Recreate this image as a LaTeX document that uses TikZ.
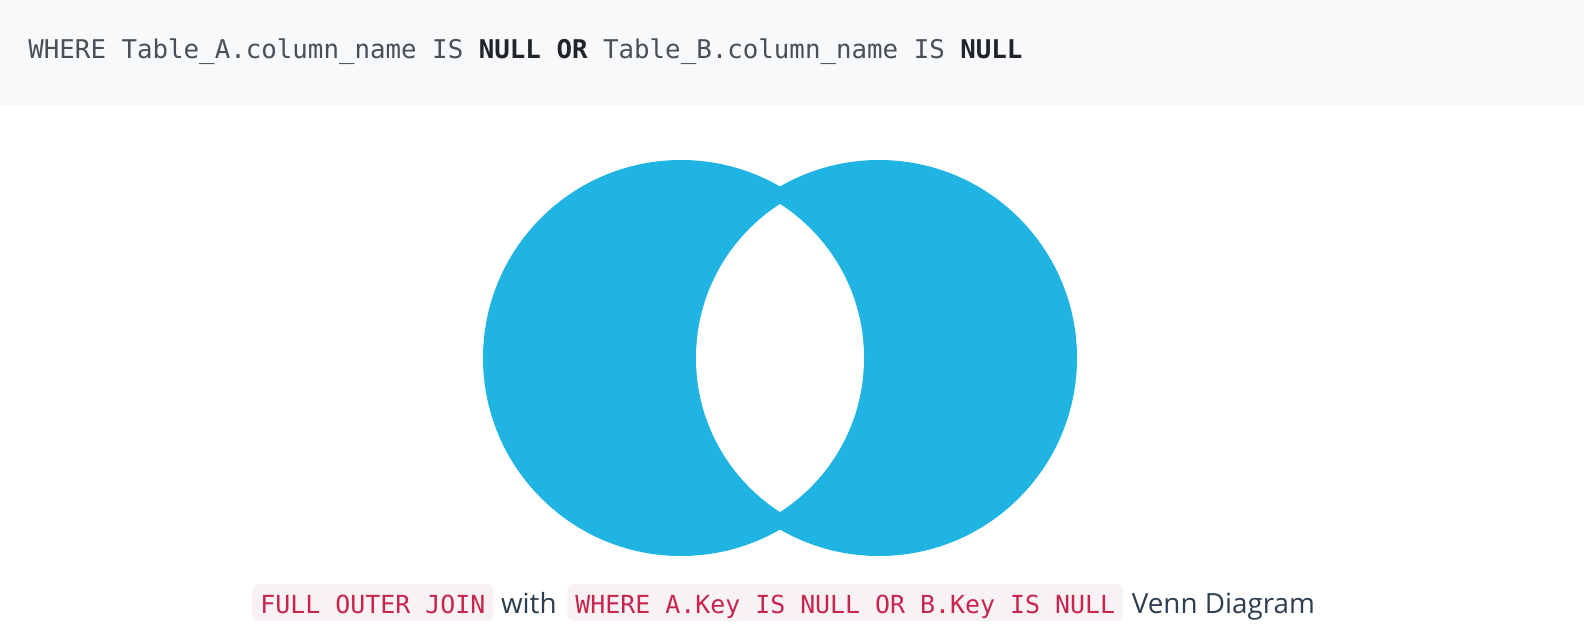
\documentclass[tikz,border=0pt]{standalone}
\usepackage{fontspec}
\setmainfont{Open Sans}
\setmonofont{DejaVu Sans Mono}
\usepackage{tikz}
\usetikzlibrary{calc}
\usetikzlibrary{positioning}

\definecolor{bandgray}{RGB}{248,249,251}
\definecolor{sqlgray}{RGB}{73,80,87}
\definecolor{sqldark}{RGB}{33,37,41}
\definecolor{vennblue}{RGB}{31,180,226}
\definecolor{codered}{RGB}{199,37,78}
\definecolor{codebg}{RGB}{249,242,244}
\definecolor{captext}{RGB}{44,62,80}

\tikzset{
  codebox/.style={fill=codebg, rounded corners=3pt, inner xsep=4pt, inner ysep=0pt,
    text height=14.5pt, text depth=4pt, text=codered, font=\fontsize{12.45pt}{14pt}\ttfamily},
  captxt/.style={inner sep=0pt, text=captext, font=\fontsize{13.9pt}{16pt}\selectfont}
}

\begin{document}
\begin{tikzpicture}[x=0.5pt,y=-0.5pt]
            % Define the radii of the circles
            \def\R{198}  % outer radius
            \def\r{183}  % radius of the white lens
            \useasboundingbox (0,0) rectangle (1584,638);

            % Calculate the coordinates of the centres
            \coordinate (A) at (681, 358);
            \coordinate (B) at (879, 358);

            % Draw the query band
            \fill[bandgray] (0,0) rectangle (1584,106);
            \node[anchor=base west, inner sep=0pt, text=sqlgray,
                  font=\fontsize{12.9pt}{15pt}\ttfamily] (query) at (28,58)
                {WHERE Table\_A.column\_name IS \textcolor{sqldark}{\bfseries NULL OR}
                 Table\_B.column\_name IS \textcolor{sqldark}{\bfseries NULL}};

            % Draw the two tables
            \fill[vennblue] (A) circle (\R);
            \fill[vennblue] (B) circle (\R);

            % Draw the white lens
            \begin{scope}
                \clip (A) circle (\r);
                \fill[white] (B) circle (\r);
            \end{scope}

            % Draw the caption
            \node[codebox, anchor=base west] (join) at (252,613) {FULL OUTER JOIN};
            \node[captxt, anchor=base west] (with) at ($(join.base east)+(7,0)$) {with};
            \node[codebox, anchor=base west] (where) at ($(with.base east)+(10,0)$)
                {WHERE A.Key IS NULL OR B.Key IS NULL};
            \node[captxt, anchor=base west] (venn) at ($(where.base east)+(8,0)$) {Venn Diagram};

        \end{tikzpicture}
\end{document}
